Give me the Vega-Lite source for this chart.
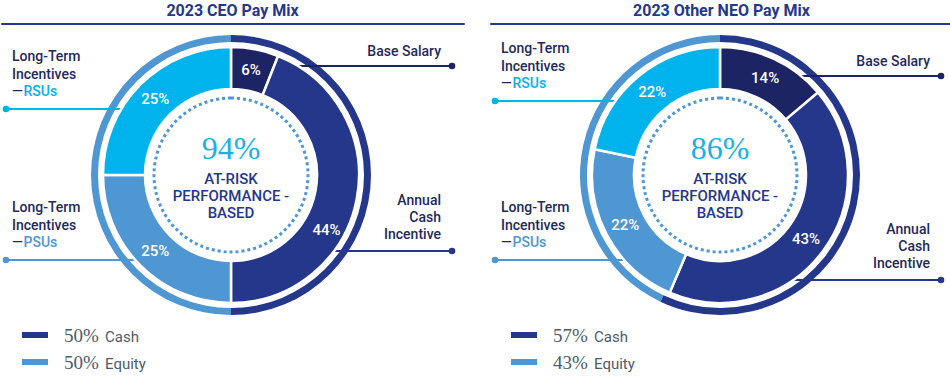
{
  "$schema": "https://vega.github.io/schema/vega-lite/v6.json",
  "background": "white",
  "padding": {"left": 0, "top": 2, "right": 0, "bottom": 0},
  "config": {"view": {"stroke": null}, "font": "Roboto"},
  "datasets": {
    "ceoSeg": [
      {"comp": "Base Salary", "ord": 1, "pct": 6, "label": "6%", "side": "right", "text": "Base Salary", "word": ""},
      {"comp": "Annual Cash Incentive", "ord": 2, "pct": 44, "label": "44%", "side": "right", "text": "Annual\nCash\nIncentive", "word": ""},
      {"comp": "Long-Term Incentives—PSUs", "ord": 3, "pct": 25, "label": "25%", "side": "left", "text": "Long-Term\nIncentives\n—", "word": "PSUs"},
      {"comp": "Long-Term Incentives—RSUs", "ord": 4, "pct": 25, "label": "25%", "side": "left", "text": "Long-Term\nIncentives\n—", "word": "RSUs"}
    ],
    "ceoMix": [
      {"kind": "Cash", "share": 50, "ord": 1, "pctText": "50%"},
      {"kind": "Equity", "share": 50, "ord": 2, "pctText": "50%"}
    ],
    "ceoCenter": [{"big": "94%", "caption": "AT-RISK\nPERFORMANCE -\nBASED"}],
    "neoSeg": [
      {"comp": "Base Salary", "ord": 1, "pct": 14, "label": "14%", "side": "right", "text": "Base Salary", "word": ""},
      {"comp": "Annual Cash Incentive", "ord": 2, "pct": 43, "label": "43%", "side": "right", "text": "Annual\nCash\nIncentive", "word": ""},
      {"comp": "Long-Term Incentives—PSUs", "ord": 3, "pct": 22, "label": "22%", "side": "left", "text": "Long-Term\nIncentives\n—", "word": "PSUs"},
      {"comp": "Long-Term Incentives—RSUs", "ord": 4, "pct": 22, "label": "22%", "side": "left", "text": "Long-Term\nIncentives\n—", "word": "RSUs"}
    ],
    "neoMix": [
      {"kind": "Cash", "share": 57, "ord": 1, "pctText": "57%"},
      {"kind": "Equity", "share": 43, "ord": 2, "pctText": "43%"}
    ],
    "neoCenter": [{"big": "86%", "caption": "AT-RISK\nPERFORMANCE -\nBASED"}]
  },
  "spacing": 24,
  "hconcat": [
    {
      "spacing": 0,
      "vconcat": [
        {
          "width": 463, "height": 1,
          "view": {"stroke": "#25378a", "strokeWidth": 1},
          "title": {"text": "2023 CEO Pay Mix", "fontSize": 16, "fontWeight": 700, "font": "Roboto", "color": "#25378a", "anchor": "middle", "offset": 4},
          "data": {"values": []},
          "mark": {"type": "text"}
        },
        {
          "width": 460, "height": 300,
          "resolve": {"scale": {"theta": "independent"}},
          "layer": [
            {
              "data": {"name": "ceoMix"},
              "mark": {"type": "arc", "radius": 140, "radius2": 133},
              "encoding": {
                "theta": {"field": "share", "type": "quantitative", "stack": true},
                "order": {"field": "ord", "type": "quantitative"},
                "color": {"field": "kind", "type": "nominal", "legend": null, "scale": {"domain": ["Base Salary", "Annual Cash Incentive", "Long-Term Incentives—PSUs", "Long-Term Incentives—RSUs", "Cash", "Equity"], "range": ["#1d2463", "#25378a", "#4f97d2", "#00b3ec", "#25378a", "#4f97d2"]}}
              }
            },
            {
              "data": {"name": "ceoSeg"},
              "mark": {"type": "rule", "strokeWidth": 2},
              "encoding": {
                "x": {"field": "side", "type": "nominal", "axis": null, "scale": {"type": "point", "domain": ["left", "center", "right"], "range": [5, 451], "padding": 0}},
                "x2": {"datum": "center"},
                "y": {"field": "ord", "type": "quantitative", "axis": null, "scale": {"domain": [1, 2, 3, 4], "range": [41, 226, 235, 84], "nice": false, "zero": false}},
                "color": {"field": "comp", "type": "nominal", "legend": null, "scale": {"domain": ["Base Salary", "Annual Cash Incentive", "Long-Term Incentives—PSUs", "Long-Term Incentives—RSUs", "Cash", "Equity"], "range": ["#1d2463", "#25378a", "#4f97d2", "#00b3ec", "#25378a", "#4f97d2"]}}
              }
            },
            {
              "data": {"name": "ceoSeg"},
              "mark": {"type": "point", "filled": true, "size": 44, "opacity": 1},
              "encoding": {
                "x": {"field": "side", "type": "nominal", "axis": null},
                "y": {"field": "ord", "type": "quantitative", "axis": null},
                "color": {"field": "comp", "type": "nominal", "legend": null}
              }
            },
            {
              "data": {"name": "ceoSeg"},
              "mark": {"type": "arc", "radius": 128, "radius2": 86, "stroke": "white", "strokeWidth": 2.5},
              "encoding": {
                "theta": {"field": "pct", "type": "quantitative", "stack": true},
                "order": {"field": "ord", "type": "quantitative"},
                "color": {"field": "comp", "type": "nominal", "legend": null}
              }
            },
            {
              "data": {"name": "ceoCenter"},
              "mark": {"type": "arc", "theta": 0, "theta2": 6.2832, "radius": 86, "fill": "white"}
            },
            {
              "data": {"name": "ceoCenter"},
              "mark": {"type": "arc", "theta": 0, "theta2": 6.2832, "radius": 77, "filled": false, "stroke": "#4f97d2", "strokeWidth": 3, "strokeDash": [3, 3]}
            },
            {
              "data": {"name": "ceoSeg"},
              "mark": {"type": "text", "radius": 107, "fontSize": 15, "fontWeight": 500, "fill": "white", "baseline": "middle", "align": "center"},
              "encoding": {
                "theta": {"field": "pct", "type": "quantitative", "stack": true},
                "order": {"field": "ord", "type": "quantitative"},
                "text": {"condition": {"test": "datum.ord != 2", "field": "label"}, "value": ""}
              }
            },
            {
              "data": {"name": "ceoSeg"},
              "mark": {"type": "text", "radius": 110, "thetaOffset": 0.33, "fontSize": 15, "fontWeight": 500, "fill": "white", "baseline": "middle", "align": "center"},
              "encoding": {
                "theta": {"field": "pct", "type": "quantitative", "stack": true},
                "order": {"field": "ord", "type": "quantitative"},
                "text": {"condition": {"test": "datum.ord == 2", "field": "label"}, "value": ""}
              }
            },
            {
              "data": {"name": "ceoCenter"},
              "mark": {"type": "text", "font": "Liberation Serif", "fontSize": 32, "fill": "#1ab0e8", "align": "center", "baseline": "alphabetic", "dy": -16},
              "encoding": {"text": {"field": "big"}}
            },
            {
              "data": {"name": "ceoCenter"},
              "mark": {"type": "text", "fontSize": 15, "fontWeight": 500, "fill": "#25378a", "align": "center", "baseline": "alphabetic", "dy": 9, "lineBreak": "\n", "lineHeight": 17},
              "encoding": {"text": {"field": "caption"}}
            },
            {
              "data": {"name": "ceoSeg"},
              "transform": [{"filter": "datum.ord == 1"}],
              "mark": {"type": "text", "fontSize": 14, "fontWeight": 500, "fill": "#1f2a5c", "align": "right", "baseline": "alphabetic", "dx": -11, "dy": -10},
              "encoding": {
                "x": {"field": "side", "type": "nominal", "axis": null},
                "y": {"field": "ord", "type": "quantitative", "axis": null},
                "text": {"field": "text"}
              }
            },
            {
              "data": {"name": "ceoSeg"},
              "transform": [{"filter": "datum.ord == 2"}],
              "mark": {"type": "text", "fontSize": 14, "fontWeight": 500, "fill": "#1f2a5c", "align": "right", "baseline": "alphabetic", "dx": -11, "dy": -46, "lineBreak": "\n", "lineHeight": 17},
              "encoding": {
                "x": {"field": "side", "type": "nominal", "axis": null},
                "y": {"field": "ord", "type": "quantitative", "axis": null},
                "text": {"field": "text"}
              }
            },
            {
              "data": {"name": "ceoSeg"},
              "transform": [{"filter": "datum.side == 'left'"}],
              "mark": {"type": "text", "fontSize": 14, "fontWeight": 500, "fill": "#1f2a5c", "align": "left", "baseline": "alphabetic", "dx": 6, "dy": -48, "lineBreak": "\n", "lineHeight": 17.5},
              "encoding": {
                "x": {"field": "side", "type": "nominal", "axis": null},
                "y": {"field": "ord", "type": "quantitative", "axis": null},
                "text": {"field": "text"}
              }
            },
            {
              "data": {"name": "ceoSeg"},
              "transform": [{"filter": "datum.side == 'left'"}],
              "mark": {"type": "text", "fontSize": 14, "fontWeight": 500, "align": "left", "baseline": "alphabetic", "dx": 17.5, "dy": -13},
              "encoding": {
                "x": {"field": "side", "type": "nominal", "axis": null},
                "y": {"field": "ord", "type": "quantitative", "axis": null},
                "text": {"field": "word"},
                "color": {"field": "comp", "type": "nominal", "legend": null}
              }
            }
          ]
        },
        {
          "width": 68, "height": 48,
          "data": {"name": "ceoMix"},
          "encoding": {
            "y": {"field": "kind", "type": "nominal", "axis": null, "scale": {"type": "point", "padding": 0, "domain": ["Cash", "Equity"], "range": [10, 37]}}
          },
          "layer": [
            {
              "mark": {"type": "point", "filled": true, "opacity": 1, "size": 400, "shape": "M-1.3,-0.3H1.3V0.3H-1.3Z"},
              "encoding": {"color": {"field": "kind", "type": "nominal", "legend": null, "scale": {"domain": ["Cash", "Equity"], "range": ["#25378a", "#4f97d2"]}}}
            },
            {
              "mark": {"type": "text", "font": "Liberation Serif", "fontSize": 19, "fill": "#4d5b6a", "align": "left", "baseline": "alphabetic", "dx": 29, "dy": 7},
              "encoding": {"text": {"field": "pctText"}}
            },
            {
              "mark": {"type": "text", "fontSize": 15, "fill": "#4d5b6a", "align": "left", "baseline": "alphabetic", "dx": 70, "dy": 7},
              "encoding": {"text": {"field": "kind"}}
            }
          ]
        }
      ]
    },
    {
      "spacing": 0,
      "vconcat": [
        {
          "width": 463, "height": 1,
          "view": {"stroke": "#25378a", "strokeWidth": 1},
          "title": {"text": "2023 Other NEO Pay Mix", "fontSize": 16, "fontWeight": 700, "font": "Roboto", "color": "#25378a", "anchor": "middle", "offset": 4},
          "data": {"values": []},
          "mark": {"type": "text"}
        },
        {
          "width": 460, "height": 300,
          "resolve": {"scale": {"theta": "independent"}},
          "layer": [
            {
              "data": {"name": "neoMix"},
              "mark": {"type": "arc", "radius": 140, "radius2": 133},
              "encoding": {
                "theta": {"field": "share", "type": "quantitative", "stack": true},
                "order": {"field": "ord", "type": "quantitative"},
                "color": {"field": "kind", "type": "nominal", "legend": null, "scale": {"domain": ["Base Salary", "Annual Cash Incentive", "Long-Term Incentives—PSUs", "Long-Term Incentives—RSUs", "Cash", "Equity"], "range": ["#1d2463", "#25378a", "#4f97d2", "#00b3ec", "#25378a", "#4f97d2"]}}
              }
            },
            {
              "data": {"name": "neoSeg"},
              "mark": {"type": "rule", "strokeWidth": 2},
              "encoding": {
                "x": {"field": "side", "type": "nominal", "axis": null, "scale": {"type": "point", "domain": ["left", "center", "right"], "range": [5, 451], "padding": 0}},
                "x2": {"datum": "center"},
                "y": {"field": "ord", "type": "quantitative", "axis": null, "scale": {"domain": [1, 2, 3, 4], "range": [51, 255, 235, 76], "nice": false, "zero": false}},
                "color": {"field": "comp", "type": "nominal", "legend": null, "scale": {"domain": ["Base Salary", "Annual Cash Incentive", "Long-Term Incentives—PSUs", "Long-Term Incentives—RSUs", "Cash", "Equity"], "range": ["#1d2463", "#25378a", "#4f97d2", "#00b3ec", "#25378a", "#4f97d2"]}}
              }
            },
            {
              "data": {"name": "neoSeg"},
              "mark": {"type": "point", "filled": true, "size": 44, "opacity": 1},
              "encoding": {
                "x": {"field": "side", "type": "nominal", "axis": null},
                "y": {"field": "ord", "type": "quantitative", "axis": null},
                "color": {"field": "comp", "type": "nominal", "legend": null}
              }
            },
            {
              "data": {"name": "neoSeg"},
              "mark": {"type": "arc", "radius": 128, "radius2": 86, "stroke": "white", "strokeWidth": 2.5},
              "encoding": {
                "theta": {"field": "pct", "type": "quantitative", "stack": true},
                "order": {"field": "ord", "type": "quantitative"},
                "color": {"field": "comp", "type": "nominal", "legend": null}
              }
            },
            {
              "data": {"name": "neoCenter"},
              "mark": {"type": "arc", "theta": 0, "theta2": 6.2832, "radius": 86, "fill": "white"}
            },
            {
              "data": {"name": "neoCenter"},
              "mark": {"type": "arc", "theta": 0, "theta2": 6.2832, "radius": 77, "filled": false, "stroke": "#4f97d2", "strokeWidth": 3, "strokeDash": [3, 3]}
            },
            {
              "data": {"name": "neoSeg"},
              "mark": {"type": "text", "radius": 107, "fontSize": 15, "fontWeight": 500, "fill": "white", "baseline": "middle", "align": "center"},
              "encoding": {
                "theta": {"field": "pct", "type": "quantitative", "stack": true},
                "order": {"field": "ord", "type": "quantitative"},
                "text": {"field": "label"}
              }
            },
            {
              "data": {"name": "neoCenter"},
              "mark": {"type": "text", "font": "Liberation Serif", "fontSize": 32, "fill": "#1ab0e8", "align": "center", "baseline": "alphabetic", "dy": -16},
              "encoding": {"text": {"field": "big"}}
            },
            {
              "data": {"name": "neoCenter"},
              "mark": {"type": "text", "fontSize": 15, "fontWeight": 500, "fill": "#25378a", "align": "center", "baseline": "alphabetic", "dy": 9, "lineBreak": "\n", "lineHeight": 17},
              "encoding": {"text": {"field": "caption"}}
            },
            {
              "data": {"name": "neoSeg"},
              "transform": [{"filter": "datum.ord == 1"}],
              "mark": {"type": "text", "fontSize": 14, "fontWeight": 500, "fill": "#1f2a5c", "align": "right", "baseline": "alphabetic", "dx": -11, "dy": -10},
              "encoding": {
                "x": {"field": "side", "type": "nominal", "axis": null},
                "y": {"field": "ord", "type": "quantitative", "axis": null},
                "text": {"field": "text"}
              }
            },
            {
              "data": {"name": "neoSeg"},
              "transform": [{"filter": "datum.ord == 2"}],
              "mark": {"type": "text", "fontSize": 14, "fontWeight": 500, "fill": "#1f2a5c", "align": "right", "baseline": "alphabetic", "dx": -11, "dy": -46, "lineBreak": "\n", "lineHeight": 17},
              "encoding": {
                "x": {"field": "side", "type": "nominal", "axis": null},
                "y": {"field": "ord", "type": "quantitative", "axis": null},
                "text": {"field": "text"}
              }
            },
            {
              "data": {"name": "neoSeg"},
              "transform": [{"filter": "datum.side == 'left'"}],
              "mark": {"type": "text", "fontSize": 14, "fontWeight": 500, "fill": "#1f2a5c", "align": "left", "baseline": "alphabetic", "dx": 6, "dy": -48, "lineBreak": "\n", "lineHeight": 17.5},
              "encoding": {
                "x": {"field": "side", "type": "nominal", "axis": null},
                "y": {"field": "ord", "type": "quantitative", "axis": null},
                "text": {"field": "text"}
              }
            },
            {
              "data": {"name": "neoSeg"},
              "transform": [{"filter": "datum.side == 'left'"}],
              "mark": {"type": "text", "fontSize": 14, "fontWeight": 500, "align": "left", "baseline": "alphabetic", "dx": 17.5, "dy": -13},
              "encoding": {
                "x": {"field": "side", "type": "nominal", "axis": null},
                "y": {"field": "ord", "type": "quantitative", "axis": null},
                "text": {"field": "word"},
                "color": {"field": "comp", "type": "nominal", "legend": null}
              }
            }
          ]
        },
        {
          "width": 68, "height": 48,
          "data": {"name": "neoMix"},
          "encoding": {
            "y": {"field": "kind", "type": "nominal", "axis": null, "scale": {"type": "point", "padding": 0, "domain": ["Cash", "Equity"], "range": [10, 37]}}
          },
          "layer": [
            {
              "mark": {"type": "point", "filled": true, "opacity": 1, "size": 400, "shape": "M-1.3,-0.3H1.3V0.3H-1.3Z"},
              "encoding": {"color": {"field": "kind", "type": "nominal", "legend": null, "scale": {"domain": ["Cash", "Equity"], "range": ["#25378a", "#4f97d2"]}}}
            },
            {
              "mark": {"type": "text", "font": "Liberation Serif", "fontSize": 19, "fill": "#4d5b6a", "align": "left", "baseline": "alphabetic", "dx": 29, "dy": 7},
              "encoding": {"text": {"field": "pctText"}}
            },
            {
              "mark": {"type": "text", "fontSize": 15, "fill": "#4d5b6a", "align": "left", "baseline": "alphabetic", "dx": 70, "dy": 7},
              "encoding": {"text": {"field": "kind"}}
            }
          ]
        }
      ]
    }
  ]
}
